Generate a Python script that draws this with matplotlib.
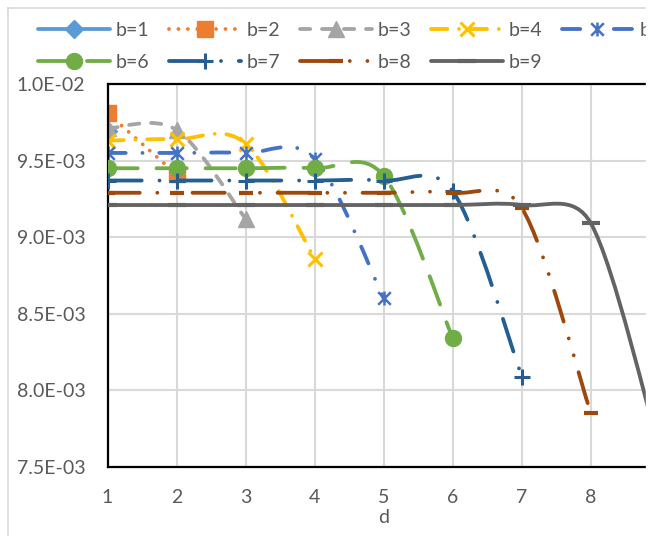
import numpy as np
import matplotlib.pyplot as plt
from matplotlib.path import Path
from matplotlib.patches import PathPatch, Rectangle
from matplotlib.lines import Line2D

plt.rcParams['font.family'] = ['Lato', 'DejaVu Sans']
plt.rcParams['lines.scale_dashes'] = False

# datos
d = [1, 2, 3, 4, 5, 6, 7, 8, 9]
b1 = [9.69e-3]
b2 = [9.81e-3, 9.41e-3]
b3 = [9.71e-3, 9.70e-3, 9.12e-3]
b4 = [9.63e-3, 9.64e-3, 9.61e-3, 8.86e-3]
b5 = [9.55e-3, 9.55e-3, 9.55e-3, 9.51e-3, 8.60e-3]
b6 = [9.45e-3, 9.45e-3, 9.45e-3, 9.45e-3, 9.40e-3, 8.34e-3]
b7 = [9.37e-3, 9.37e-3, 9.37e-3, 9.37e-3, 9.37e-3, 9.30e-3, 8.09e-3]
b8 = [9.29e-3, 9.29e-3, 9.29e-3, 9.29e-3, 9.29e-3, 9.29e-3, 9.19e-3, 7.85e-3]
b9 = [9.21e-3, 9.21e-3, 9.21e-3, 9.21e-3, 9.21e-3, 9.21e-3, 9.21e-3, 9.09e-3, 7.60e-3]
series = [b1, b2, b3, b4, b5, b6, b7, b8, b9]
labels = ['b=%d' % (i + 1) for i in range(9)]

colores = ['#5B9BD5', '#ED7D31', '#A5A5A5', '#FFC000', '#4472C4',
           '#70AD47', '#255E91', '#9E480E', '#636363']

# marcador tipo asterisco de Excel (x con linea vertical)
aster = Path([(-1, -1), (1, 1), (-1, 1), (1, -1), (0, -1.1), (0, 1.1)],
             [Path.MOVETO, Path.LINETO, Path.MOVETO, Path.LINETO, Path.MOVETO, Path.LINETO])

px = 0.72  # puntos por pixel a 100 dpi
estilos = [
    dict(ls='-', marker='D', ms=9.5, mew=1),
    dict(ls=(0, (0.01, 9.4 * px)), marker='s', ms=11.5, mew=1),
    dict(ls=(0, (10.2 * px, 11.8 * px)), marker='^', ms=11.5, mew=1),
    dict(ls=(0, (16.2 * px, 11.8 * px, 0.01, 11.8 * px)), marker='x', ms=10, mew=2.2),
    dict(ls=(0, (18.2 * px, 16.8 * px, 0.01, 16.8 * px)), marker=aster, ms=10, mew=1.8),
    dict(ls=(0, (30.2 * px, 18.8 * px)), marker='o', ms=11.5, mew=1),
    dict(ls=(0, (34.2 * px, 17.8 * px, 0.01, 17.8 * px)), marker='+', ms=12, mew=2.2),
    dict(ls=(0, (32.2 * px, 17.6 * px, 0.01, 17.6 * px, 0.01, 17.6 * px)), marker='_', ms=10, mew=3),
    dict(ls='-', marker='_', ms=13, mew=3),
]
lw = 2.75


def curva(ax, xs, ys):
    # suavizado tipo Excel: bezier con tangentes limitadas, calculado en pixeles
    p = ax.transData.transform(np.column_stack([xs, ys]))
    n = len(p)
    verts = [p[0]]
    codes = [Path.MOVETO]
    for i in range(n - 1):
        p0 = p[i - 1] if i > 0 else p[i]
        p1 = p[i]
        p2 = p[i + 1]
        p3 = p[i + 2] if i + 2 < n else p[i + 1]
        d02 = np.hypot(*(p2 - p0))
        d12 = np.hypot(*(p2 - p1))
        d13 = np.hypot(*(p3 - p1))
        f1 = d12 / d02 / 2 if d02 / 6 >= d12 / 2 else 1 / 6
        f2 = d12 / d13 / 2 if d13 / 6 >= d12 / 2 else 1 / 6
        verts += [p1 + (p2 - p0) * f1, p2 - (p3 - p1) * f2, p2]
        codes += [Path.CURVE4] * 3
    verts = ax.transData.inverted().transform(np.array(verts))
    return Path(verts, codes)


fig = plt.figure(figsize=(6.57, 5.36), dpi=100)
W, H = 657, 536
ax = fig.add_axes([107.5 / W, (H - 467) / H, (660 - 107.5) / W, (467 - 84) / H])
ax.set_xlim(1, 9)
ax.set_ylim(7.5e-3, 1.0e-2)

handles = []
for i, ys in enumerate(series):
    xs = d[:len(ys)]
    st = estilos[i]
    c = colores[i]
    z = 2 + i * 0.1
    if len(ys) > 1:
        pp = PathPatch(curva(ax, xs, ys), fill=False, edgecolor=c, lw=lw,
                       linestyle=st['ls'], capstyle='round', joinstyle='round', zorder=z)
        ax.add_patch(pp)
    ax.plot(xs, ys, ls='none', marker=st['marker'], ms=st['ms'], mew=st['mew'],
            color=c, mfc=c, mec=c, zorder=z + 0.05)
    h = Line2D([], [], color=c, lw=lw, ls=st['ls'], marker=st['marker'], ms=st['ms'],
               mew=st['mew'], mfc=c, mec=c, solid_capstyle='round', dash_capstyle='round')
    handles.append(h)

ax.set_xlim(1, 9)
ax.set_ylim(7.5e-3, 1.0e-2)
ax.set_xticks(d[:-1])
yt = np.arange(7.5e-3, 1.0e-2 + 1e-6, 5e-4)
ax.set_yticks(yt)
ax.set_yticklabels(['{:.1E}'.format(v) for v in yt])
ax.grid(True, color='#D9D9D9', lw=1.5, zorder=0)
ax.set_axisbelow(True)
ax.tick_params(length=0, labelsize=14, colors='#595959')
ax.tick_params(axis='y', pad=16)
ax.tick_params(axis='x', pad=16)
ax.set_xlabel('d', fontsize=14, color='#595959', labelpad=2)
for s in ax.spines.values():
    s.set_linewidth(1.6)
    s.set_color('black')

orden = [0, 5, 1, 6, 2, 7, 3, 8, 4]
ax.legend([handles[k] for k in orden], [labels[k] for k in orden], ncol=5,
          loc='upper left', bbox_to_anchor=(38 / W, 1 - 22 / H), bbox_transform=fig.transFigure,
          frameon=False, borderpad=0, borderaxespad=0, fontsize=14, labelcolor='#595959',
          handlelength=3.7, handletextpad=0.3, columnspacing=1.0, labelspacing=0.78,
          numpoints=1)

# borde del area del grafico y recorte a la derecha
fig.add_artist(Line2D([8 / W, 646 / W], [1 - 8 / H, 1 - 8 / H], color='#D9D9D9', lw=1.2,
                      transform=fig.transFigure))
fig.add_artist(Line2D([8 / W, 8 / W], [0, 1 - 8 / H], color='#D9D9D9', lw=1.2,
                      transform=fig.transFigure))
fig.patches.append(Rectangle((646 / W, 0), 1, 1, transform=fig.transFigure,
                             color='white', zorder=1000))

plt.savefig('out.png', dpi=100)
